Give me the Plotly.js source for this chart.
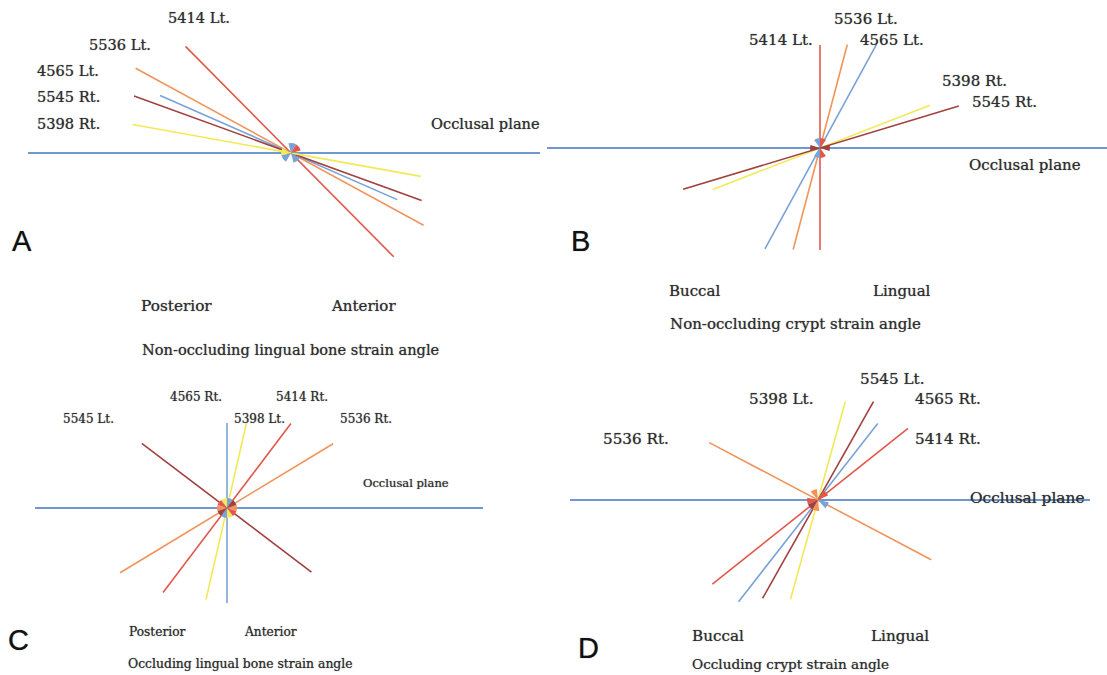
<!DOCTYPE html>
<html><head><meta charset="utf-8">
<script src="https://cdn.plot.ly/plotly-3.0.1.min.js"></script>
<style>html,body{margin:0;padding:0;background:#fff}#chart{width:1107px;height:675px}
.annotation-text{text-shadow:0 0 1px rgba(50,50,50,0.7)}</style>
</head><body><div id="chart"></div>
<script>
// ---------- DATA (angle in degrees of the upper ray, ray lengths) ----------
// Panel A: non-occluding lingual bone
const aAngle   = [134.7, 151.4, 156.3, 160.0, 169.8];
const aUpper   = [150, 177, 143, 167, 161];
const aLower   = [146, 151, 116, 139, 132];
const aPlane   = [249, 263];          // right, left length of occlusal plane
const aLabels  = ['5414 Lt.','5536 Lt.','4565 Lt.','5545 Rt.','5398 Rt.'];
// Panel B: non-occluding crypt
const bAngle   = [90, 75.2, 61.4, 21.2, 16.8];
const bUpper   = [103, 107, 118, 118, 145];
const bLower   = [102, 105, 115, 115, 143];
const bPlane   = [290, 273];
const bLabels  = ['5536 Lt.','5414 Lt.','4565 Lt.','5398 Rt.','5545 Rt.'];
// Panel C: occluding lingual bone
const cAngle   = [90, 77.1, 52.9, 31.2, 142.8];
const cUpper   = [85, 87, 106, 124, 107];
const cLower   = [95, 94, 106, 125, 106];
const cPlane   = [256, 192];
const cLabels  = ['4565 Rt.','5414 Rt.','5545 Lt.','5398 Lt.','5536 Rt.'];
// Panel D: occluding crypt
const dAngle   = [74.5, 60.6, 52.0, 38.5, 152.2];
const dUpper   = [102, 113, 97, 115, 123];
const dLower   = [103, 113, 129, 135, 128];
const dPlane   = [272, 248];
const dLabels  = ['5545 Lt.','5398 Lt.','4565 Rt.','5536 Rt.','5414 Rt.'];
const planeLabel = 'Occlusal plane';
const sideA = ['Posterior','Anterior'];
const sideB = ['Buccal','Lingual'];
const titles = ['Non-occluding lingual bone strain angle','Non-occluding crypt strain angle',
                'Occluding lingual bone strain angle','Occluding crypt strain angle'];
const panelLetters = ['A','B','C','D'];

// ---------- STYLE / LAYOUT ----------
const W = 1107, H = 675;
const RED='#e2574c', ORA='#f0955a', BLU='#79a3d6', BRN='#a1403f', YEL='#f1ea56', PLANE='#6f98d0';
const colA = [RED, ORA, BLU, BRN, YEL];
const colB = [RED, ORA, BLU, YEL, BRN];
const colC = [BLU, YEL, RED, ORA, BRN];
const colD = [YEL, BRN, BLU, RED, ORA];
// panel boxes in pixels [x0,x1,y0,y1] and centre of the fan
const boxes   = [[0,545,0,272],[545,1107,0,272],[0,545,365,625],[545,1107,355,625]];
const centers = [[291,153],[820,148],[227,508],[818,500]];

const traces = [];
const layout = {width:W, height:H, margin:{l:0,r:0,t:0,b:0}, paper_bgcolor:'#fff',
  plot_bgcolor:'rgba(0,0,0,0)', showlegend:false, annotations:[]};

const rad = d => d*Math.PI/180;
function ray(r0, a0, r1, a1){   // polar pair -> cartesian through centre
  return {x:[r0*Math.cos(rad(a0)), 0, r1*Math.cos(rad(a1))],
          y:[r0*Math.sin(rad(a0)), 0, r1*Math.sin(rad(a1))]};
}
function addPanel(idx, angles, up, down, cols, plane){
  const n = idx===0 ? '' : String(idx+1);
  const [x0,x1,y0,y1] = boxes[idx];
  const [cx,cy] = centers[idx];
  layout['xaxis'+n] = {domain:[x0/W, x1/W], range:[x0-cx, x1-cx], visible:false,
    fixedrange:true, anchor:'y'+n};
  layout['yaxis'+n] = {domain:[1-y1/H, 1-y0/H], range:[cy-y1, cy-y0], visible:false,
    fixedrange:true, anchor:'x'+n};
  const p = ray(plane[0], 0, plane[1], 180);
  traces.push({type:'scatter', xaxis:'x'+n, yaxis:'y'+n, mode:'lines', x:p.x, y:p.y,
    line:{color:PLANE,width:2}, hoverinfo:'skip'});
  for(let i=0;i<angles.length;i++){
    const q = ray(up[i], angles[i], down[i], angles[i]+180);
    traces.push({type:'scatter', xaxis:'x'+n, yaxis:'y'+n, mode:'lines', x:q.x, y:q.y,
      line:{color:cols[i],width:1.6}, hoverinfo:'skip'});
  }
}
addPanel(0,aAngle,aUpper,aLower,colA,aPlane);
addPanel(1,bAngle,bUpper,bLower,colB,bPlane);
addPanel(2,cAngle,cUpper,cLower,colC,cPlane);
addPanel(3,dAngle,dUpper,dLower,colD,dPlane);

// centre arrowhead clusters
const T='rgba(0,0,0,0)';
const hubs = [
  {c:[RED,BLU,T,YEL,BLU,T,BLU,T], rot:30, s:10},
  {c:[RED,BLU,T,BRN,T,BLU,RED,T,BRN,T], rot:0, s:10},
  {c:[BLU,YEL,RED,ORA,BRN,BLU,YEL,RED,ORA,BRN], rot:0, s:10},
  {c:[RED,T,ORA,T,RED,BRN,ORA,T,BLU,T], rot:30, s:11}
];
hubs.forEach((h,i)=>{
  const [cx,cy]=centers[i];
  traces.push({type:'pie', values:h.c.map(()=>1), marker:{colors:h.c, line:{width:0}},
    sort:false, rotation:h.rot, textinfo:'none', hoverinfo:'skip', showlegend:false,
    domain:{x:[(cx-h.s)/W,(cx+h.s)/W], y:[1-(cy+h.s)/H,1-(cy-h.s)/H]}});
});

// ---------- TEXT ----------
const SER='DejaVu Serif, serif', TXT='#2e2e2e';
function ann(text,x,y,size,opts){
  layout.annotations.push(Object.assign({text, x:x/W, y:1-y/H, xref:'paper', yref:'paper',
    showarrow:false, xanchor:'center', yanchor:'middle',
    font:{family:SER,size,color:TXT}}, opts||{}));
}
const letterFont = {family:'Liberation Sans, Arial, sans-serif', size:29, color:'#111'};
// A
[[199,17],[120,44],[68,70],[68,97],[68,123]].forEach((p,i)=>ann(aLabels[i],p[0],p[1],14.6));
ann(planeLabel,485,123,14.6);
ann(sideA[0],176,306,15.3); ann(sideA[1],363,306,15);
ann(titles[0],290,349,14.6);
// B
[[866,19],[781,40],[892,40],[974,81],[1004,102]].forEach((p,i)=>ann(bLabels[i],p[0],p[1],15));
ann(planeLabel,1025,165,15);
ann(sideB[0],694,291,15); ann(sideB[1],902,291,15);
ann(titles[1],795,324,15);
// C
[[196,397],[302,397],[88,419],[259,419],[366,419]].forEach((p,i)=>ann(cLabels[i],p[0],p[1],12));
ann(planeLabel,406,483,11.5);
ann(sideA[0],157,632,12.2); ann(sideA[1],270,632,12.2);
ann(titles[2],240,663,12.4);
// D
[[892,379],[781,399],[948,399],[636,439],[948,439]].forEach((p,i)=>ann(dLabels[i],p[0],p[1],15.2));
ann(planeLabel,1027,498,15.4);
ann(sideB[0],718,636,15.2); ann(sideB[1],900,636,15.2);
ann(titles[3],790,664,13.6);
// panel letters
[[22,241],[580,241],[18,640],[588,648]].forEach((p,i)=>ann(panelLetters[i],p[0],p[1],29,
  {font:letterFont}));

Plotly.newPlot('chart', traces, layout, {staticPlot:true, displayModeBar:false});
</script></body></html>
